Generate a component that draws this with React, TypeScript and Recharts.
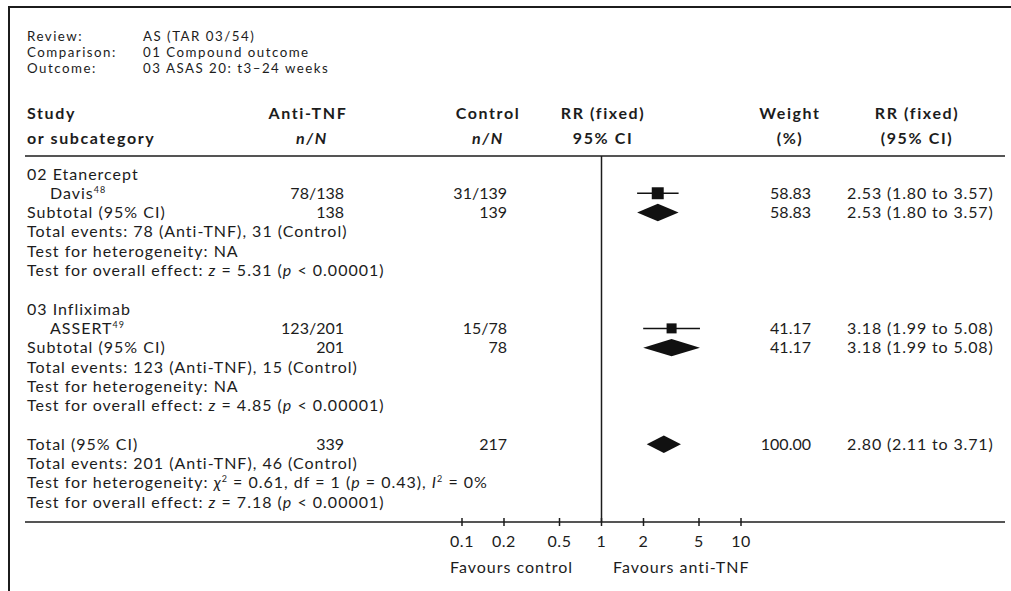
import React from "react";
import {
  ComposedChart,
  Scatter,
  XAxis,
  YAxis,
  ErrorBar,
  ReferenceLine,
  ReferenceArea,
} from "recharts";

// ---- data ----
const groupNames = ["02 Etanercept", "03 Infliximab"];
const studyNames = ["Davis", "ASSERT"];
const studyRefs = ["48", "49"];
const antiEvents = [78, 123];
const antiTotals = [138, 201];
const ctrlEvents = [31, 15];
const ctrlTotals = [139, 78];
const studyWeights = [58.83, 41.17];
const studyRR = [2.53, 3.18];
const studyLow = [1.8, 1.99];
const studyHigh = [3.57, 5.08];

const subWeights = [58.83, 41.17];
const subRR = [2.53, 3.18];
const subLow = [1.8, 1.99];
const subHigh = [3.57, 5.08];
const subZ = [5.31, 4.85];

const totalAnti = 339;
const totalCtrl = 217;
const totalAntiEvents = 201;
const totalCtrlEvents = 46;
const totalWeight = 100.0;
const totalRR = 2.8;
const totalLow = 2.11;
const totalHigh = 3.71;
const totalChi2 = 0.61;
const totalDf = 1;
const totalHetP = 0.43;
const totalI2 = 0;
const totalZ = 7.18;

const rrTicks = [0.1, 0.2, 0.5, 1, 2, 5, 10];

// ---- layout ----
const W = 1011;
const H = 591;
const PLOT_LEFT = 462;
const PLOT_RIGHT = 741;
const PLOT_TOP = 156;
const PLOT_BOTTOM = 522;
const ROW_MIN = -0.93;
const ROW_MAX = 18.03;
const GROUP_START = [0, 7];
const TOTAL_ROW = 14;
const FONT = "Lato, 'Open Sans', sans-serif";
const INK = "#1c1c1c";
const FS = 16;
const LS = 1.0;
const NUM_LS = 0.85;

const rowY = (r: number) =>
  PLOT_TOP + ((r - ROW_MIN) / (ROW_MAX - ROW_MIN)) * (PLOT_BOTTOM - PLOT_TOP);

const fmt2 = (v: number) => v.toFixed(2);
const ciText = (e: number, l: number, h: number) =>
  `${fmt2(e)} (${fmt2(l)} to ${fmt2(h)})`;

const studyPoints = studyNames.map((_, i) => ({
  rr: studyRR[i],
  row: GROUP_START[i] + 1,
  weight: studyWeights[i],
  err: [studyRR[i] - studyLow[i], studyHigh[i] - studyRR[i]],
}));

const diamonds = [
  ...subRR.map((_, i) => ({ lo: subLow[i], hi: subHigh[i], row: GROUP_START[i] + 2 })),
  { lo: totalLow, hi: totalHigh, row: TOTAL_ROW },
];

function Txt({
  x,
  y,
  anchor = "start",
  bold = false,
  italic = false,
  size = FS,
  spacing = LS,
  children,
}: any) {
  return (
    <text
      x={x}
      y={y}
      dy="0.35em"
      textAnchor={anchor}
      fontFamily={FONT}
      fontSize={size}
      fontWeight={bold ? 700 : 400}
      fontStyle={italic ? "italic" : "normal"}
      letterSpacing={spacing}
      fill={INK}
    >
      {children}
    </text>
  );
}

const SquareShape = (props: any) => {
  const { cx, cy, payload } = props;
  const s = 1.56 * Math.sqrt(payload.weight);
  return <rect x={cx - s / 2} y={cy - s / 2} width={s} height={s} fill="#111" />;
};

const DiamondShape = (props: any) => {
  const { x, y, width, height } = props;
  const mx = x + width / 2;
  const my = y + height / 2;
  const pts = `${x},${my} ${mx},${y} ${x + width},${my} ${mx},${y + height}`;
  return <polygon points={pts} fill="#111" />;
};

const AxisTick = (props: any) => {
  const { x, y, payload } = props;
  return (
    <g>
      <line x1={x} x2={x} y1={y - 4} y2={y + 4} stroke={INK} strokeWidth={1.5} />
      <text
        x={x}
        y={y + 19}
        dy="0.35em"
        textAnchor="middle"
        fontFamily={FONT}
        fontSize={FS}
        letterSpacing={0.5}
        fill={INK}
      >
        {String(payload.value)}
      </text>
    </g>
  );
};

const COL = {
  label: 27,
  indent: 50,
  anti: 344,
  ctrl: 507,
  weight: 811,
  ci: 847,
};

function GroupRows({ i }: { i: number }) {
  const r0 = GROUP_START[i];
  return (
    <g>
      <Txt x={COL.label} y={rowY(r0)}>{groupNames[i]}</Txt>
      <text
        x={COL.indent}
        y={rowY(r0 + 1)}
        dy="0.35em"
        fontFamily={FONT}
        fontSize={FS}
        letterSpacing={LS}
        fill={INK}
      >
        {studyNames[i]}
        <tspan fontSize={9} dy={-6}>{studyRefs[i]}</tspan>
      </text>
      <Txt x={COL.anti} y={rowY(r0 + 1)} anchor="end" spacing={0}>{`${antiEvents[i]}/${antiTotals[i]}`}</Txt>
      <Txt x={COL.ctrl} y={rowY(r0 + 1)} anchor="end" spacing={0}>{`${ctrlEvents[i]}/${ctrlTotals[i]}`}</Txt>
      <Txt x={COL.weight} y={rowY(r0 + 1)} anchor="end" spacing={0}>{fmt2(studyWeights[i])}</Txt>
      <Txt x={COL.ci} y={rowY(r0 + 1)} spacing={NUM_LS}>{ciText(studyRR[i], studyLow[i], studyHigh[i])}</Txt>

      <Txt x={COL.label} y={rowY(r0 + 2)}>Subtotal (95% CI)</Txt>
      <Txt x={COL.anti} y={rowY(r0 + 2)} anchor="end" spacing={0}>{antiTotals[i]}</Txt>
      <Txt x={COL.ctrl} y={rowY(r0 + 2)} anchor="end" spacing={0}>{ctrlTotals[i]}</Txt>
      <Txt x={COL.weight} y={rowY(r0 + 2)} anchor="end" spacing={0}>{fmt2(subWeights[i])}</Txt>
      <Txt x={COL.ci} y={rowY(r0 + 2)} spacing={NUM_LS}>{ciText(subRR[i], subLow[i], subHigh[i])}</Txt>

      <Txt x={COL.label} y={rowY(r0 + 3)}>
        {`Total events: ${antiEvents[i]} (Anti-TNF), ${ctrlEvents[i]} (Control)`}
      </Txt>
      <Txt x={COL.label} y={rowY(r0 + 4)}>Test for heterogeneity: NA</Txt>
      <Txt x={COL.label} y={rowY(r0 + 5)}>
        Test for overall effect: <tspan fontStyle="italic">z</tspan> = {subZ[i].toFixed(2)} (
        <tspan fontStyle="italic">p</tspan> &lt; 0.00001)
      </Txt>
    </g>
  );
}

export default function App() {
  const r = TOTAL_ROW;
  return (
    <div
      style={{
        position: "absolute",
        left: 0,
        top: 0,
        width: W,
        height: H,
        background: "#fff",
        overflow: "hidden",
      }}
    >
      <svg width={W} height={H} style={{ position: "absolute", left: 0, top: 0 }}>
        {/* frame */}
        <line x1={8} x2={W} y1={7} y2={7} stroke={INK} strokeWidth={2} />
        <line x1={9} x2={9} y1={6} y2={H} stroke={INK} strokeWidth={2} />

        {/* review block */}
        <Txt x={27} y={36.5} size={13.3} spacing={1.5}>Review:</Txt>
        <Txt x={143} y={36.5} size={13.3} spacing={1.5}>AS (TAR 03/54)</Txt>
        <Txt x={27} y={52.5} size={13.3} spacing={1.5}>Comparison:</Txt>
        <Txt x={143} y={52.5} size={13.3} spacing={1.5}>01 Compound outcome</Txt>
        <Txt x={27} y={68.5} size={13.3} spacing={1.5}>Outcome:</Txt>
        <Txt x={143} y={68.5} size={13.3} spacing={1.5}>03 ASAS 20: t3–24 weeks</Txt>

        {/* column headers */}
        <Txt x={27} y={113} bold spacing={1.6}>Study</Txt>
        <Txt x={27} y={138} bold spacing={1.6}>or subcategory</Txt>
        <Txt x={308} y={113} bold spacing={1.6} anchor="middle">Anti-TNF</Txt>
        <Txt x={312} y={138} bold italic spacing={1.6} anchor="middle">n/N</Txt>
        <Txt x={488} y={113} bold spacing={1.6} anchor="middle">Control</Txt>
        <Txt x={488} y={138} bold italic spacing={1.6} anchor="middle">n/N</Txt>
        <Txt x={603} y={113} bold spacing={1.6} anchor="middle">RR (fixed)</Txt>
        <Txt x={603} y={138} bold spacing={1.6} anchor="middle">95% CI</Txt>
        <Txt x={790} y={113} bold spacing={1.6} anchor="middle">Weight</Txt>
        <Txt x={790} y={138} bold spacing={1.6} anchor="middle">(%)</Txt>
        <Txt x={917} y={113} bold spacing={1.6} anchor="middle">RR (fixed)</Txt>
        <Txt x={917} y={138} bold spacing={1.6} anchor="middle">(95% CI)</Txt>

        <line x1={25} x2={1005} y1={PLOT_TOP} y2={PLOT_TOP} stroke={INK} strokeWidth={1.5} />
        <line x1={25} x2={1005} y1={PLOT_BOTTOM} y2={PLOT_BOTTOM} stroke={INK} strokeWidth={1.5} />

        {groupNames.map((_, i) => (
          <GroupRows key={i} i={i} />
        ))}

        {/* overall */}
        <Txt x={COL.label} y={rowY(r)}>Total (95% CI)</Txt>
        <Txt x={COL.anti} y={rowY(r)} anchor="end" spacing={0}>{totalAnti}</Txt>
        <Txt x={COL.ctrl} y={rowY(r)} anchor="end" spacing={0}>{totalCtrl}</Txt>
        <Txt x={COL.weight} y={rowY(r)} anchor="end" spacing={0}>{fmt2(totalWeight)}</Txt>
        <Txt x={COL.ci} y={rowY(r)} spacing={NUM_LS}>{ciText(totalRR, totalLow, totalHigh)}</Txt>
        <Txt x={COL.label} y={rowY(r + 1)}>
          {`Total events: ${totalAntiEvents} (Anti-TNF), ${totalCtrlEvents} (Control)`}
        </Txt>
        <Txt x={COL.label} y={rowY(r + 2)}>
          Test for heterogeneity: <tspan fontStyle="italic">χ</tspan>
          <tspan fontSize={9} dy={-6}>2</tspan>
          <tspan dy={6}> = {totalChi2.toFixed(2)}, df = {totalDf} (</tspan>
          <tspan fontStyle="italic">p</tspan> = {totalHetP.toFixed(2)}),{" "}
          <tspan fontStyle="italic">I</tspan>
          <tspan fontSize={9} dy={-6}>2</tspan>
          <tspan dy={6}> = {totalI2}%</tspan>
        </Txt>
        <Txt x={COL.label} y={rowY(r + 3)}>
          Test for overall effect: <tspan fontStyle="italic">z</tspan> = {totalZ.toFixed(2)} (
          <tspan fontStyle="italic">p</tspan> &lt; 0.00001)
        </Txt>

        <Txt x={573} y={567} anchor="end">Favours control</Txt>
        <Txt x={613} y={567}>Favours anti-TNF</Txt>
      </svg>

      <div style={{ position: "absolute", left: 0, top: 0 }}>
        <ComposedChart
          width={W}
          height={H}
          data={studyPoints}
          margin={{ top: PLOT_TOP, left: PLOT_LEFT, right: W - PLOT_RIGHT, bottom: H - PLOT_BOTTOM - 40 }}
        >
          <XAxis
            type="number"
            dataKey="rr"
            scale="log"
            domain={[0.1, 10]}
            ticks={rrTicks}
            allowDataOverflow
            height={40}
            axisLine={false}
            tickLine={false}
            tickSize={0}
            tickMargin={0}
            interval={0}
            tick={<AxisTick />}
          />
          <YAxis type="number" dataKey="row" domain={[ROW_MIN, ROW_MAX]} reversed hide allowDataOverflow />
          <ReferenceLine x={1} stroke={INK} strokeWidth={1.5} />
          {diamonds.map((d, i) => (
            <ReferenceArea
              key={i}
              x1={d.lo}
              x2={d.hi}
              y1={d.row - 0.45}
              y2={d.row + 0.45}
              shape={<DiamondShape />}
            />
          ))}
          <Scatter data={studyPoints} shape={<SquareShape />} isAnimationActive={false}>
            <ErrorBar dataKey="err" direction="x" width={0} stroke="#111" strokeWidth={1.5} />
          </Scatter>
        </ComposedChart>
      </div>
    </div>
  );
}
